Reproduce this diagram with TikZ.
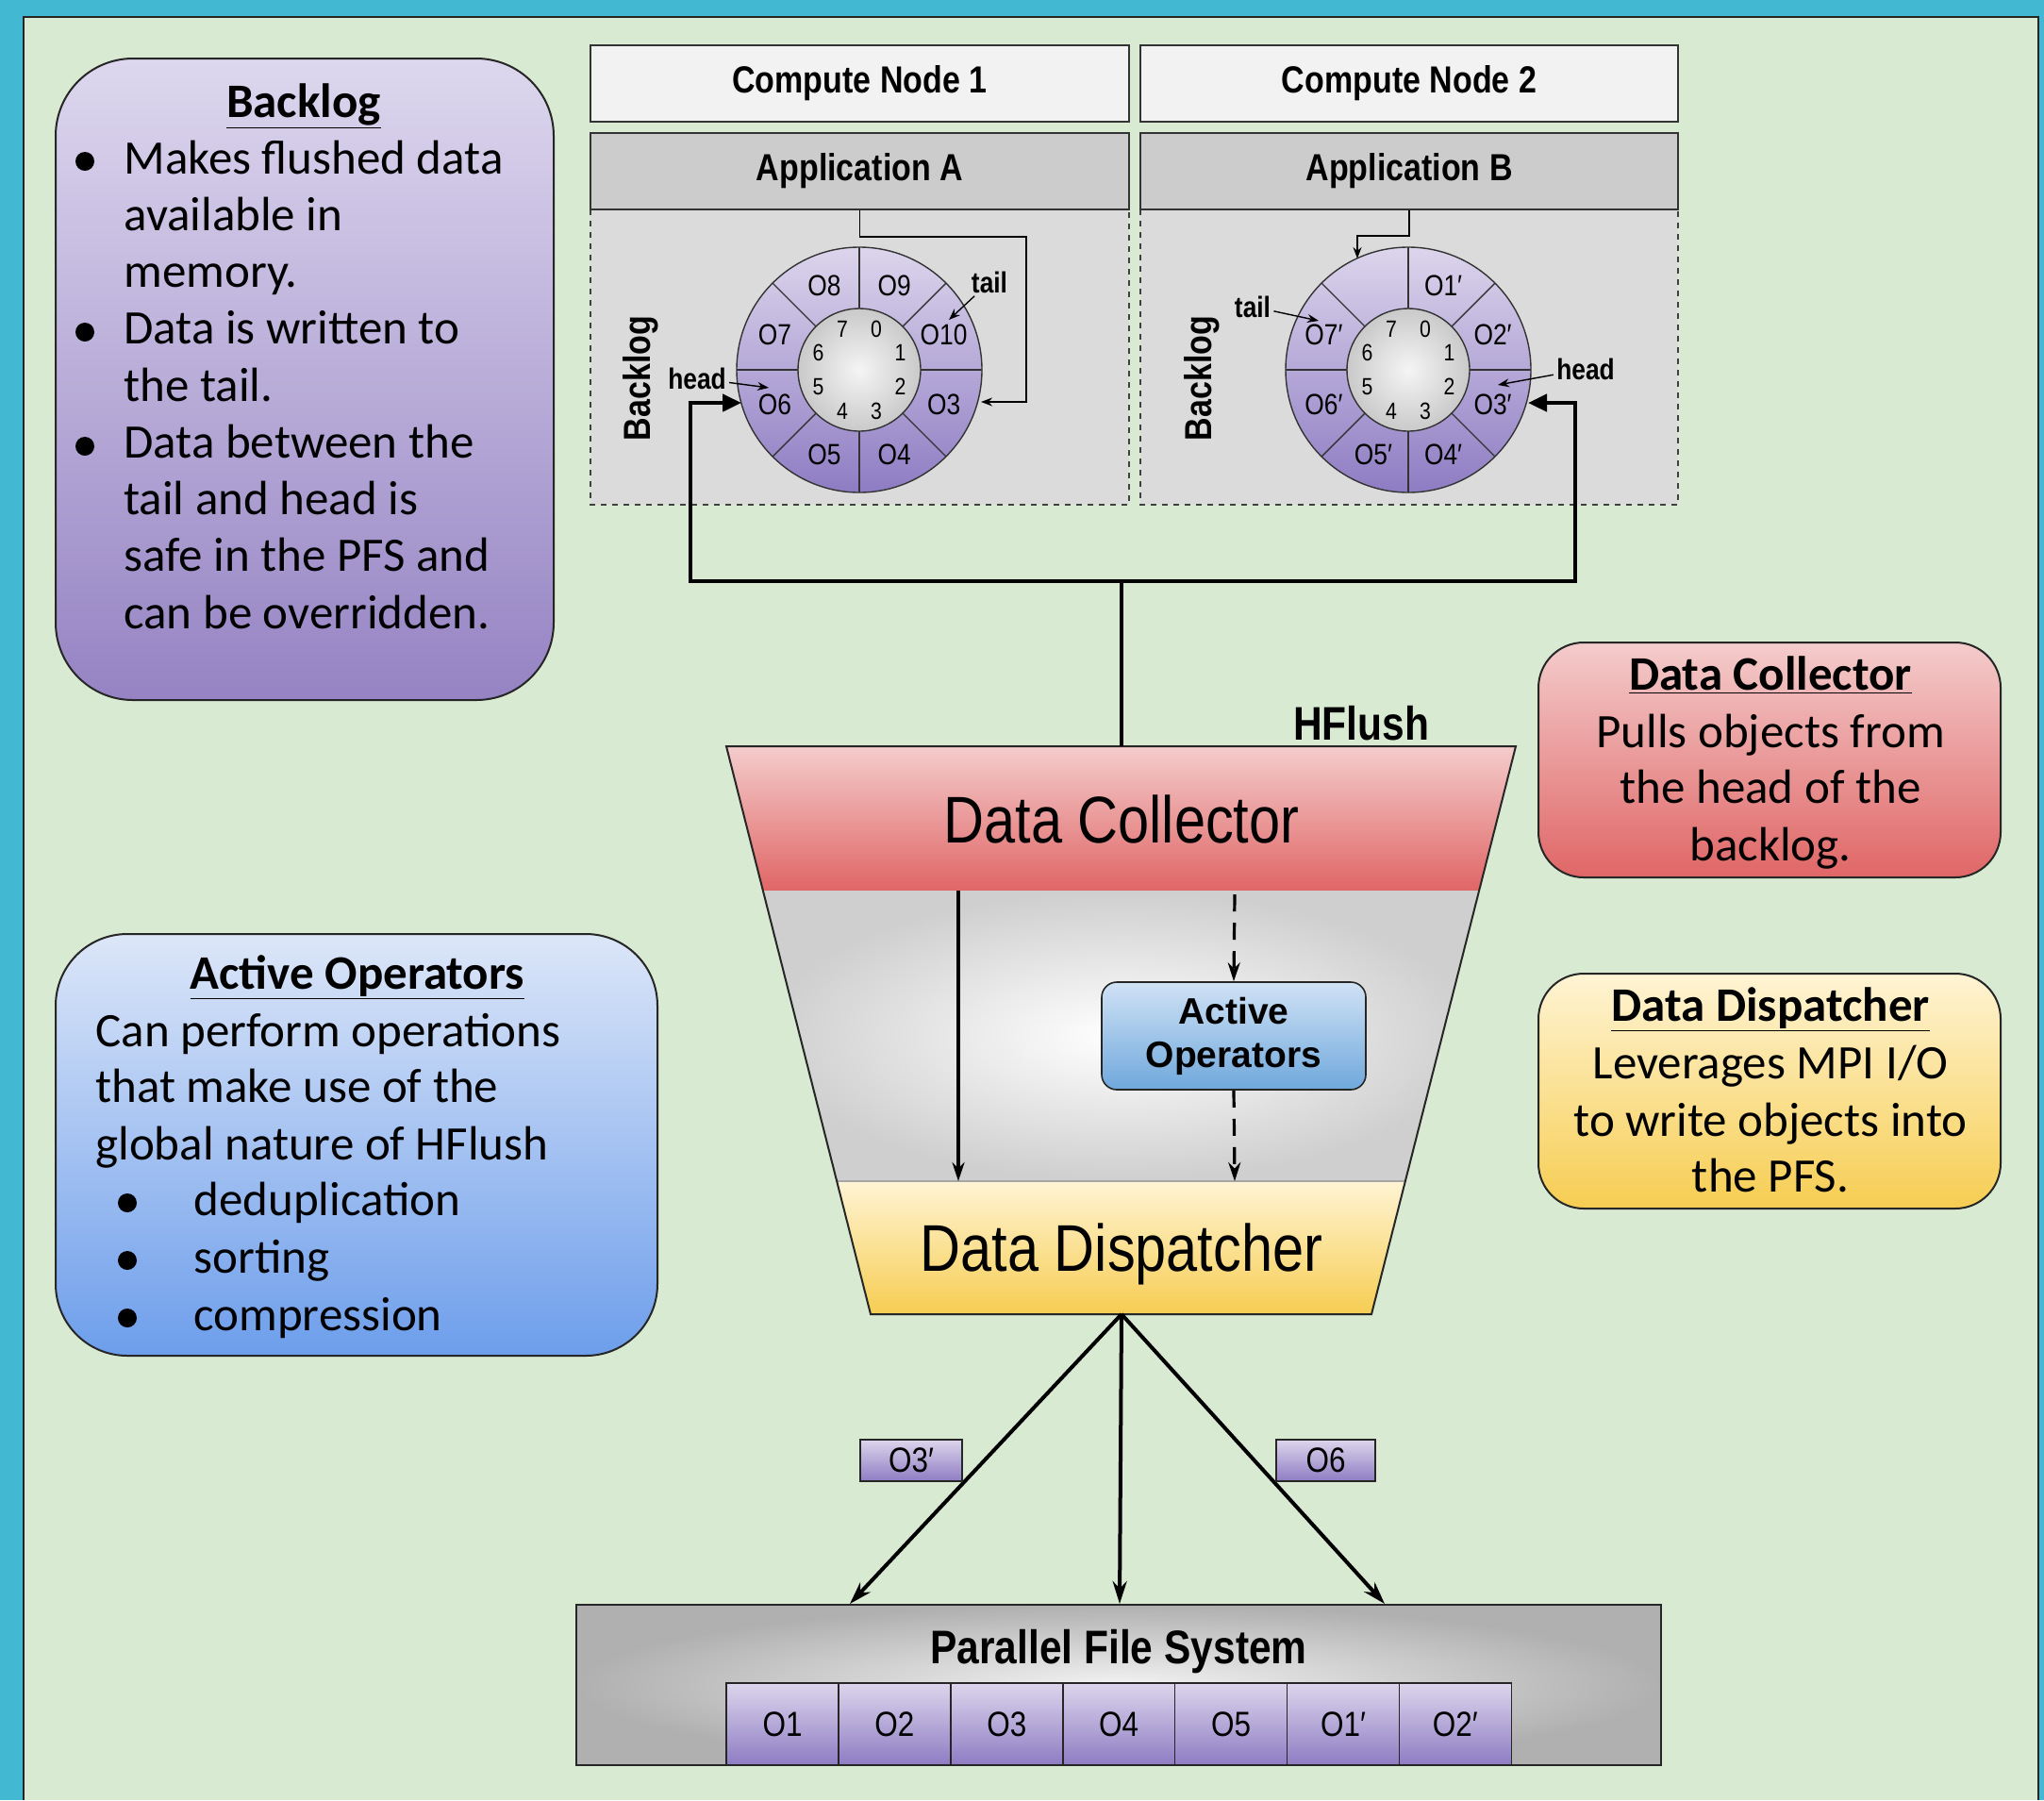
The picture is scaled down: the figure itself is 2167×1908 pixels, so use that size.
\documentclass[tikz,border=0pt]{standalone}
\usepackage{fontspec}
\setmainfont{Carlito}
\newfontfamily\condfont[FakeStretch=0.85]{Liberation Sans}
\newfontfamily\plainsans{Liberation Sans}
\usetikzlibrary{arrows.meta,calc}
\definecolor{frameblue}{HTML}{42B8D3}
\definecolor{bggreen}{HTML}{D9EAD3}
\definecolor{lavtop}{HTML}{DCD5EC}
\definecolor{lavbot}{HTML}{8E7CC3}
\definecolor{bltop}{HTML}{DDD7EE}
\definecolor{blbot}{HTML}{9583C3}
\definecolor{aotop}{HTML}{DCE6F8}
\definecolor{aobot}{HTML}{6D9EEB}
\definecolor{dctop}{HTML}{F4CCCC}
\definecolor{dcbot}{HTML}{E06666}
\definecolor{ddtop}{HTML}{FFF4D4}
\definecolor{ddbot}{HTML}{F6CD52}
\definecolor{sbtop}{HTML}{D0E2F5}
\definecolor{sbbot}{HTML}{6FA8DC}
\begin{document}
\begin{tikzpicture}[x=0.5pt,y=-0.5pt,
  body/.style={font=\fontsize{25.5}{30}\selectfont, inner sep=0pt, anchor=base west},
  ttl/.style={font=\bfseries\fontsize{25.5}{30}\selectfont, inner sep=0pt, anchor=base},
  ctr/.style={font=\fontsize{25.5}{30}\selectfont, inner sep=0pt, anchor=base},
  hdr/.style={font=\condfont\bfseries\fontsize{20}{23}\selectfont, inner sep=0pt},
  infobox/.style={draw=black!85, line width=1pt, inner sep=0pt},
  ringlbl/.style={font=\condfont\fontsize{15.5}{17}\selectfont, inner sep=0pt},
  ringnum/.style={font=\condfont\fontsize{12.5}{14}\selectfont, inner sep=0pt},
  ptr/.style={font=\condfont\bfseries\fontsize{15.5}{17}\selectfont, inner sep=1.5pt},
  smallarr/.style={line width=0.7pt, -{Stealth[length=6pt,width=4.5pt]}},
  ringline/.style={draw=black!80, line width=0.7pt},
  bracket/.style={line width=2.3pt},
  bigtip/.style={-{Triangle[length=10pt,width=9pt]}},
  pfsarr/.style={line width=2pt, -{Stealth[length=12pt,width=7.5pt]}},
  midarr/.style={line width=1.6pt, -{Stealth[length=10pt,width=6.5pt]}},
  objbox/.style={draw=black!85, line width=0.8pt, top color=lavtop, bottom color=lavbot,
     font=\condfont\fontsize{18.5}{21}\selectfont, inner sep=0pt}
]
\useasboundingbox (0,0) rectangle (2167,1908);
% frame
\fill[frameblue] (0,0) rectangle (2167,1908);
\fill[bggreen] (25,18) rectangle (2161,1908);
\draw[line width=1.3pt, black!85] (25,1908) -- (25,18) -- (2161,18) -- (2161,1908);

% ---------- Backlog info box
\node[infobox, rounded corners=41pt, top color=bltop, bottom color=blbot,
      minimum width=264pt, minimum height=340pt] (backlogbox) at (323,402) {};
\node[ttl] (bltitle) at (322,124) {\underline{Backlog}};
\foreach \t [count=\i from 0] in {Makes flushed data, available in, memory., Data is written to, the tail., Data between the, tail and head is, safe in the PFS and, can be overridden.}
  \node[body] (bl\i) at (131,184+60.25*\i) {\t};
\foreach \y in {171,352,473} \fill (90,\y) circle[radius=5pt];

% ---------- Active Operators info box
\node[infobox, rounded corners=38pt, top color=aotop, bottom color=aobot,
      minimum width=319pt, minimum height=223.5pt] (aobox) at (378,1213.5) {};
\node[ttl] (aotitle) at (379,1048) {\underline{Active Operators}};
\node[body] (ao1) at (101,1109) {Can perform operations};
\node[body] (ao2) at (101,1168) {that make use of the};
\node[body] (ao3) at (101,1229) {global nature of HFlush};
\node[body] (ao4) at (205,1288) {deduplication};
\node[body] (ao5) at (205,1349) {sorting};
\node[body] (ao6) at (205,1410) {compression};
\foreach \y in {1275,1336,1397} \fill (135,\y) circle[radius=5pt];

% ---------- Data Collector info box
\node[infobox, rounded corners=24pt, top color=dctop, bottom color=dcbot,
      minimum width=245pt, minimum height=124.5pt] (dcbox) at (1876,805.5) {};
\node[ttl] (dctitle) at (1877,731) {\underline{Data Collector}};
\node[ctr] (dc1) at (1877,792) {Pulls objects from};
\node[ctr] (dc2) at (1877,851) {the head of the};
\node[ctr] (dc3) at (1877,912) {backlog.};

% ---------- Data Dispatcher info box
\node[infobox, rounded corners=24pt, top color=ddtop, bottom color=ddbot,
      minimum width=245pt, minimum height=124.5pt] (ddbox) at (1876,1156.5) {};
\node[ttl] (ddtitle) at (1877,1082) {\underline{Data Dispatcher}};
\node[ctr] (dd1) at (1877,1143) {Leverages MPI I/O};
\node[ctr] (dd2) at (1877,1204) {to write objects into};
\node[ctr] (dd3) at (1877,1263) {the PFS.};

% ---------- Compute nodes
\fill[gray!28] (626,222) rectangle (1197,535);
\draw[black!75, line width=0.6pt, dashed] (626,222) rectangle (1197,535);
\fill[gray!28] (1209,222) rectangle (1779,535);
\draw[black!75, line width=0.6pt, dashed] (1209,222) rectangle (1779,535);
\node[hdr, draw=black!80, line width=0.8pt, fill=black!5, minimum width=285.5pt, minimum height=40.5pt] (cn1) at (911.5,88.5) {Compute Node 1};
\node[hdr, draw=black!80, line width=0.8pt, fill=black!5, minimum width=285pt, minimum height=40.5pt] (cn2) at (1494,88.5) {Compute Node 2};
\node[hdr, draw=black!80, line width=0.8pt, fill=black!20, minimum width=285.5pt, minimum height=40.5pt] (appA) at (911.5,181.5) {Application A};
\node[hdr, draw=black!80, line width=0.8pt, fill=black!20, minimum width=285pt, minimum height=40.5pt] (appB) at (1494,181.5) {Application B};
\node[hdr, rotate=90] (blA) at (679,401) {Backlog};
\node[hdr, rotate=90] (blB) at (1274,401) {Backlog};

% ---------- Ring A
\coordinate (cA) at (911,392);
\path[ringline, top color=lavtop, bottom color=lavbot] (cA) circle[radius=65pt];
\path[ringline, inner color=gray!8, outer color=gray!42] (cA) circle[radius=32.5pt];
\foreach \a in {0,45,...,315} \draw[ringline] ($(cA)+(\a:65)$) -- ($(cA)+(\a:130)$);
\foreach \l [count=\k from 0] in {O9,O10,O3,O4,O5,O6,O7,O8}
  \node[ringlbl] (A\k) at ($(cA)+(45*\k-67.5:97)$) {\l};
\foreach \k in {0,...,7}
  \node[ringnum] (An\k) at ($(cA)+(45*\k-67.5:47)$) {\k};

% ---------- Ring B
\coordinate (cB) at (1493,392);
\path[ringline, top color=lavtop, bottom color=lavbot] (cB) circle[radius=65pt];
\path[ringline, inner color=gray!8, outer color=gray!42] (cB) circle[radius=32.5pt];
\foreach \a in {0,45,...,315} \draw[ringline] ($(cB)+(\a:65)$) -- ($(cB)+(\a:130)$);
\foreach \l [count=\k from 0] in {O1′,O2′,O3′,O4′,O5′,O6′,O7′,{}}
  \node[ringlbl] (B\k) at ($(cB)+(45*\k-67.5:97)$) {\l};
\foreach \k in {0,...,7}
  \node[ringnum] (Bn\k) at ($(cB)+(45*\k-67.5:47)$) {\k};

% ---------- head / tail pointers
\node[ptr] (tailA) at (1049,299) {tail};
\coordinate (tailAtip) at (1006,339);
\draw[smallarr] (tailA) -- (tailAtip);
\node[ptr] (headA) at (739,401) {head};
\coordinate (headAtip) at (815,411);
\draw[smallarr] (headA) -- (headAtip);
\node[ptr] (tailB) at (1328,325) {tail};
\coordinate (tailBtip) at (1398,340);
\draw[smallarr] (tailB) -- (tailBtip);
\node[ptr] (headB) at (1681,391) {head};
\coordinate (headBtip) at (1588,408);
\draw[smallarr] (headB) -- (headBtip);

% ---------- application write paths
\coordinate (ringAtail) at (1040,426);
\coordinate (ringBtop) at (1439,274);
\draw[smallarr] (appA.south) -- ++(0,28) -| ($(ringAtail)+(48,0)$) -- (ringAtail);
\draw[smallarr] (appB.south) -- ++(0,27) -| (ringBtop);

% ---------- funnel
\coordinate (TL) at (770,791);  \coordinate (TR) at (1607,791);
\coordinate (L1) at (809,944);  \coordinate (R1) at (1568,944);
\coordinate (L2) at (887,1252); \coordinate (R2) at (1490,1252);
\coordinate (BL) at (923,1393); \coordinate (BR) at (1454,1393);
\shade[top color=dctop, bottom color=dcbot] (TL) -- (TR) -- (R1) -- (L1) -- cycle;
\shade[inner color=white, outer color=gray!38] (L1) -- (R1) -- (R2) -- (L2) -- cycle;
\shade[top color=ddtop, bottom color=ddbot] (L2) -- (R2) -- (BR) -- (BL) -- cycle;
\draw[gray!70, line width=0.6pt] (L2) -- (R2);
\draw[line width=1pt, black!85] (TL) -- (TR) -- (BR) -- (BL) -- cycle;
\node[font=\condfont\fontsize{35}{40}\selectfont, inner sep=0pt] (dc) at (1189,868) {Data Collector};
\node[font=\condfont\fontsize{35}{40}\selectfont, inner sep=0pt] (dd) at (1189,1329) {Data Dispatcher};
\node[draw=black!85, line width=0.8pt, rounded corners=8pt, top color=sbtop, bottom color=sbbot,
      minimum width=140pt, minimum height=57pt, align=center,
      font=\plainsans\bfseries\fontsize{19.5}{23}\selectfont] (aos) at (1308,1098) {Active\\Operators};

\coordinate (dcout) at (1016,944);  \coordinate (ddin) at (1016,1252);
\coordinate (dcout2) at (1309,948); \coordinate (ddin2) at (1309,1252);
\draw[midarr] (dcout) -- (ddin);
\draw[midarr, dashed, dash pattern=on 9pt off 6pt] (dcout2) -- (aos.north);
\draw[midarr, dashed, dash pattern=on 9pt off 6pt] (aos.south) -- (ddin2);

% ---------- HFlush connections
\coordinate (dctopc) at (1189,791);
\coordinate (hub) at (1189,616);
\coordinate (ringAhead) at (786,427);
\coordinate (ringBhead) at (1620,427);
\draw[line width=1.8pt] (dctopc) -- (hub);
\draw[bracket, bigtip] (hub) -| ($(ringAhead)+(-54,0)$) -- (ringAhead);
\draw[bracket, bigtip] (hub) -| ($(ringBhead)+(50,0)$) -- (ringBhead);
\node[font=\condfont\bfseries\fontsize{25}{28}\selectfont, inner sep=0pt] (hflush) at (1443,767) {HFlush};

% ---------- Parallel File System
\node[draw=black!85, line width=1pt, inner color=gray!10, outer color=gray!62,
      minimum width=575pt, minimum height=85pt] (pfs) at (1186,1786) {};
\node[font=\condfont\bfseries\fontsize{25}{28}\selectfont, inner sep=0pt] (pfstitle) at (1186,1751) {Parallel File System};
\foreach \l [count=\i from 0] in {O1,O2,O3,O4,O5,O1′,O2′}
  \node[objbox, minimum width=59.45pt, minimum height=43.5pt] (cell\i) at (829.5+118.9*\i,1827.5) {\l};

\coordinate (ddout) at (1189,1393);
\coordinate (pfsL) at (901,1700);
\coordinate (pfsM) at (1187,1700);
\coordinate (pfsR) at (1468,1700);
\draw[pfsarr] (ddout) -- (pfsL);
\draw[pfsarr] (ddout) -- (pfsM);
\draw[pfsarr] (ddout) -- (pfsR);

\node[objbox, minimum width=54pt, minimum height=22pt] (obj3p) at (966,1548) {O3′};
\node[objbox, minimum width=52.5pt, minimum height=22pt] (obj6) at (1405.5,1548) {O6};
\end{tikzpicture}
\end{document}
